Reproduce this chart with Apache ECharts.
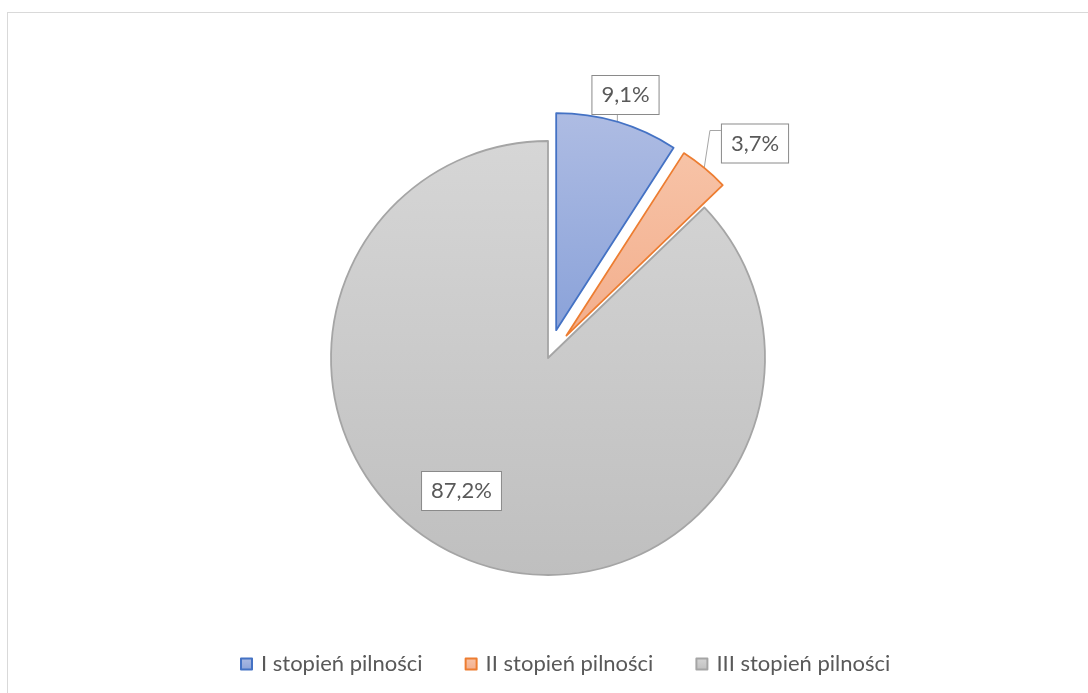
<!DOCTYPE html>
<html>
<head>
<meta charset="utf-8">
<script src="https://cdn.jsdelivr.net/npm/echarts@6/dist/echarts.min.js"></script>
<style>
  html, body { margin: 0; padding: 0; background: #ffffff; }
  #chart { position: absolute; left: 0; top: 0; width: 1088px; height: 693px; }
  #frame { position: absolute; left: 7px; top: 12px; width: 1100px; height: 720px;
           border: 1.5px solid #d9d9d9; pointer-events: none; }
</style>
</head>
<body>
<div id="chart"></div>
<div id="frame"></div>
<script>
// ---- data ----
const categories = ['I stopień pilności', 'II stopień pilności', 'III stopień pilności'];
const shares = [9.1, 3.7, 87.2];
const exploded = [true, true, false];

// ---- styles / layout ----
const PIE_CENTER = [548, 358];
const PIE_RADIUS = 217;
const EXPLODE = 29;
const fills = [
  ['#aebce3', '#8aa2d9'],
  ['#f7c3a7', '#f3ae8c'],
  ['#d6d6d6', '#bfbfbf']
];
const strokes = ['#4472c4', '#ed7d31', '#a5a5a5'];
const labelCenters = [[625.5, 95], [755, 143.5], [461.5, 491]];
const FONT = 'Lato';

function grad(c) {
  return { type: 'linear', x: 0, y: 0, x2: 0, y2: 1,
           colorStops: [{ offset: 0, color: c[0] }, { offset: 1, color: c[1] }] };
}
const fmt = v => v.toFixed(1).replace('.', ',') + '%';

const sliceData = categories.map((name, i) => ({
  name: name,
  value: shares[i],
  selected: exploded[i],
  itemStyle: { color: grad(fills[i]), borderColor: strokes[i], borderWidth: 1.8 }
}));

const labelData = categories.map((name, i) => ({
  name: name,
  value: shares[i],
  label: { position: i === 2 ? 'inside' : 'outside' },
  labelLine: { show: i !== 2 }
}));

const chart = echarts.init(document.getElementById('chart'), null, { renderer: 'canvas' });
chart.setOption({
  animation: false,
  backgroundColor: '#ffffff',
  legend: {
    data: categories,
    left: 235,
    top: 648,
    itemWidth: 11,
    itemHeight: 11,
    itemGap: 42,
    icon: 'rect',
    selectedMode: false,
    textStyle: { color: '#595959', fontSize: 22, fontFamily: FONT, padding: [0, 0, 0, 4] }
  },
  series: [{
    type: 'pie',
    name: 'slices',
    center: PIE_CENTER,
    radius: PIE_RADIUS,
    startAngle: 90,
    clockwise: true,
    selectedMode: 'multiple',
    selectedOffset: EXPLODE,
    emphasis: { disabled: true },
    label: { show: false },
    labelLine: { show: false },
    data: sliceData
  }, {
    type: 'pie',
    name: 'labels',
    center: PIE_CENTER,
    radius: PIE_RADIUS,
    startAngle: 90,
    clockwise: true,
    selectedMode: false,
    silent: true,
    avoidLabelOverlap: false,
    emphasis: { disabled: true },
    itemStyle: { color: 'rgba(0,0,0,0)', borderWidth: 0 },
    label: {
      show: true,
      formatter: p => fmt(p.value),
      color: '#595959',
      fontSize: 22,
      fontFamily: FONT,
      backgroundColor: '#ffffff',
      borderColor: '#8a8a8a',
      borderWidth: 1,
      padding: [8, 9, 8, 9]
    },
    labelLine: { show: true, length: 10, length2: 10, lineStyle: { color: '#a6a6a6', width: 1 } },
    labelLayout: function (params) {
      const i = params.dataIndex;
      const c = labelCenters[i];
      const w = params.labelRect.width, h = params.labelRect.height;
      const res = { x: c[0], y: c[1], align: 'center', verticalAlign: 'middle' };
      const pts = params.labelLinePoints;
      if (pts && pts.length && i !== 2) {
        const dx = pts[0][0] - PIE_CENTER[0], dy = pts[0][1] - PIE_CENTER[1];
        const len = Math.sqrt(dx * dx + dy * dy) || 1;
        const off = exploded[i] ? EXPLODE : 0;
        const p0 = [pts[0][0] + dx / len * off, pts[0][1] + dy / len * off];
        if (i === 0) {
          res.labelLinePoints = [p0, [p0[0], c[1] + h / 2]];
        } else {
          const left = c[0] - w / 2, top = c[1] - h / 2;
          res.labelLinePoints = [p0, [left - 11, top + 7], [left, top + 7]];
        }
      }
      return res;
    },
    data: labelData
  }]
});
</script>
</body>
</html>
